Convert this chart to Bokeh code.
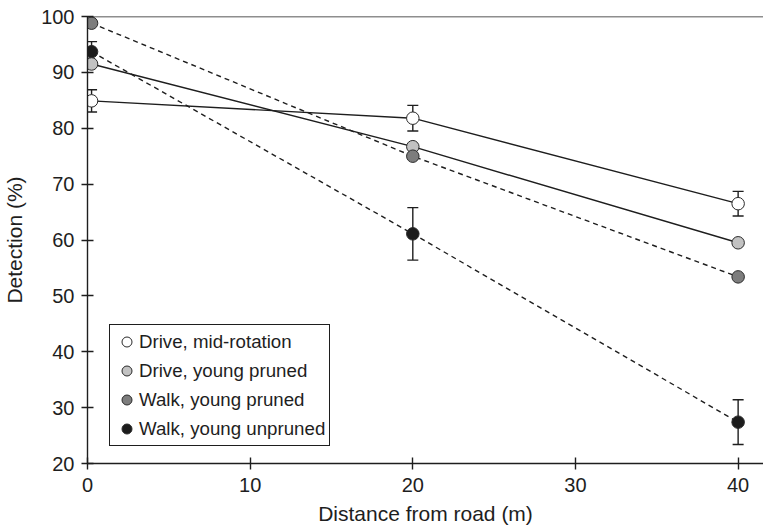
from bokeh.plotting import figure
from bokeh.models import ColumnDataSource, Whisker, Span, Legend, LegendItem, FixedTicker, TeeHead
from bokeh.embed import file_html
from bokeh.resources import INLINE

# ---- data ----
distance = [0.25, 20, 40]
drive_mid = [84.9, 81.8, 66.5]
drive_mid_err = [2.0, 2.3, 2.2]
drive_young = [91.5, 76.7, 59.5]
walk_pruned = [98.8, 75.0, 53.4]
walk_unpruned = [93.7, 61.1, 27.4]
walk_unpruned_err = [1.8, 4.7, 4.0]
x_ticks = [0, 10, 20, 30, 40]
y_ticks = [20, 30, 40, 50, 60, 70, 80, 90, 100]
labels = ["Drive, mid-rotation", "Drive, young pruned", "Walk, young pruned", "Walk, young unpruned"]

FONT = "Liberation Sans"
INK = "#1e1e1e"

p = figure(width=763, height=527, x_range=(0, 41.56), y_range=(20, 100),
           output_backend="svg", toolbar_location=None,
           min_border_left=86, min_border_right=0, min_border_top=16, min_border_bottom=64)
p.outline_line_color = None
p.grid.visible = False
p.background_fill_color = "white"
p.border_fill_color = "white"

for ax, ticks in ((p.xaxis[0], x_ticks), (p.yaxis[0], y_ticks)):
    ax.ticker = FixedTicker(ticks=ticks)
    ax.minor_tick_line_color = None
    ax.major_tick_in = 6
    ax.major_tick_out = 6
    ax.axis_line_color = INK
    ax.axis_line_width = 1.4
    ax.major_tick_line_color = INK
    ax.major_tick_line_width = 1.4
    ax.major_label_text_font = FONT
    ax.major_label_text_font_size = "20px"
    ax.major_label_text_color = INK
    ax.axis_label_text_font = FONT
    ax.axis_label_text_font_size = "21px"
    ax.axis_label_text_font_style = "normal"
    ax.axis_label_text_color = INK

p.xaxis.axis_label = "Distance from road (m)"
p.yaxis.axis_label = "Detection (%)"
p.xaxis.major_label_standoff = 8
p.xaxis.axis_label_standoff = 7
p.yaxis.major_label_standoff = 7
p.yaxis.axis_label_standoff = 12

# top frame line
p.add_layout(Span(location=100, dimension="width", line_color=INK, line_width=1.4))

src = ColumnDataSource(dict(
    x=distance,
    dm=drive_mid,
    dm_lo=[v - e for v, e in zip(drive_mid, drive_mid_err)],
    dm_hi=[v + e for v, e in zip(drive_mid, drive_mid_err)],
    dy=drive_young,
    wp=walk_pruned,
    wu=walk_unpruned,
    wu_lo=[v - e for v, e in zip(walk_unpruned, walk_unpruned_err)],
    wu_hi=[v + e for v, e in zip(walk_unpruned, walk_unpruned_err)],
))

# error bars
for lo, hi in (("dm_lo", "dm_hi"), ("wu_lo", "wu_hi")):
    w = Whisker(base="x", lower=lo, upper=hi, source=src, line_color=INK, line_width=1.4,
                upper_head=TeeHead(size=11, line_color=INK, line_width=1.4),
                lower_head=TeeHead(size=11, line_color=INK, line_width=1.4))
    p.add_layout(w)

# lines
p.line("x", "dm", source=src, line_color=INK, line_width=1.4)
p.line("x", "dy", source=src, line_color=INK, line_width=1.4)
p.line("x", "wp", source=src, line_color=INK, line_width=1.4, line_dash="5 4")
p.line("x", "wu", source=src, line_color=INK, line_width=1.4, line_dash="5 4")

# markers
fills = {"dm": "white", "wu": "#1c1c1c", "dy": "#c2c2c2", "wp": "#7d7d7d"}
rend = {}
for key in ("dm", "wu", "dy", "wp"):
    rend[key] = p.scatter("x", key, source=src, size=12.5, fill_color=fills[key],
                          line_color="#2a2a2a", line_width=1)

legend = Legend(items=[
    LegendItem(label=labels[0], renderers=[rend["dm"]]),
    LegendItem(label=labels[1], renderers=[rend["dy"]]),
    LegendItem(label=labels[2], renderers=[rend["wp"]]),
    LegendItem(label=labels[3], renderers=[rend["wu"]]),
], location=(22, 17))
legend.label_text_font = FONT
legend.label_text_font_size = "18.7px"
legend.label_text_color = INK
legend.border_line_color = INK
legend.border_line_alpha = 1
legend.border_line_width = 1.3
legend.background_fill_alpha = 1
legend.padding = 4
legend.margin = 0
legend.spacing = 4
legend.glyph_width = 25
legend.glyph_height = 25
legend.label_height = 25
legend.label_standoff = 0
p.add_layout(legend)

open("out.html", "w").write(file_html(p, INLINE))
